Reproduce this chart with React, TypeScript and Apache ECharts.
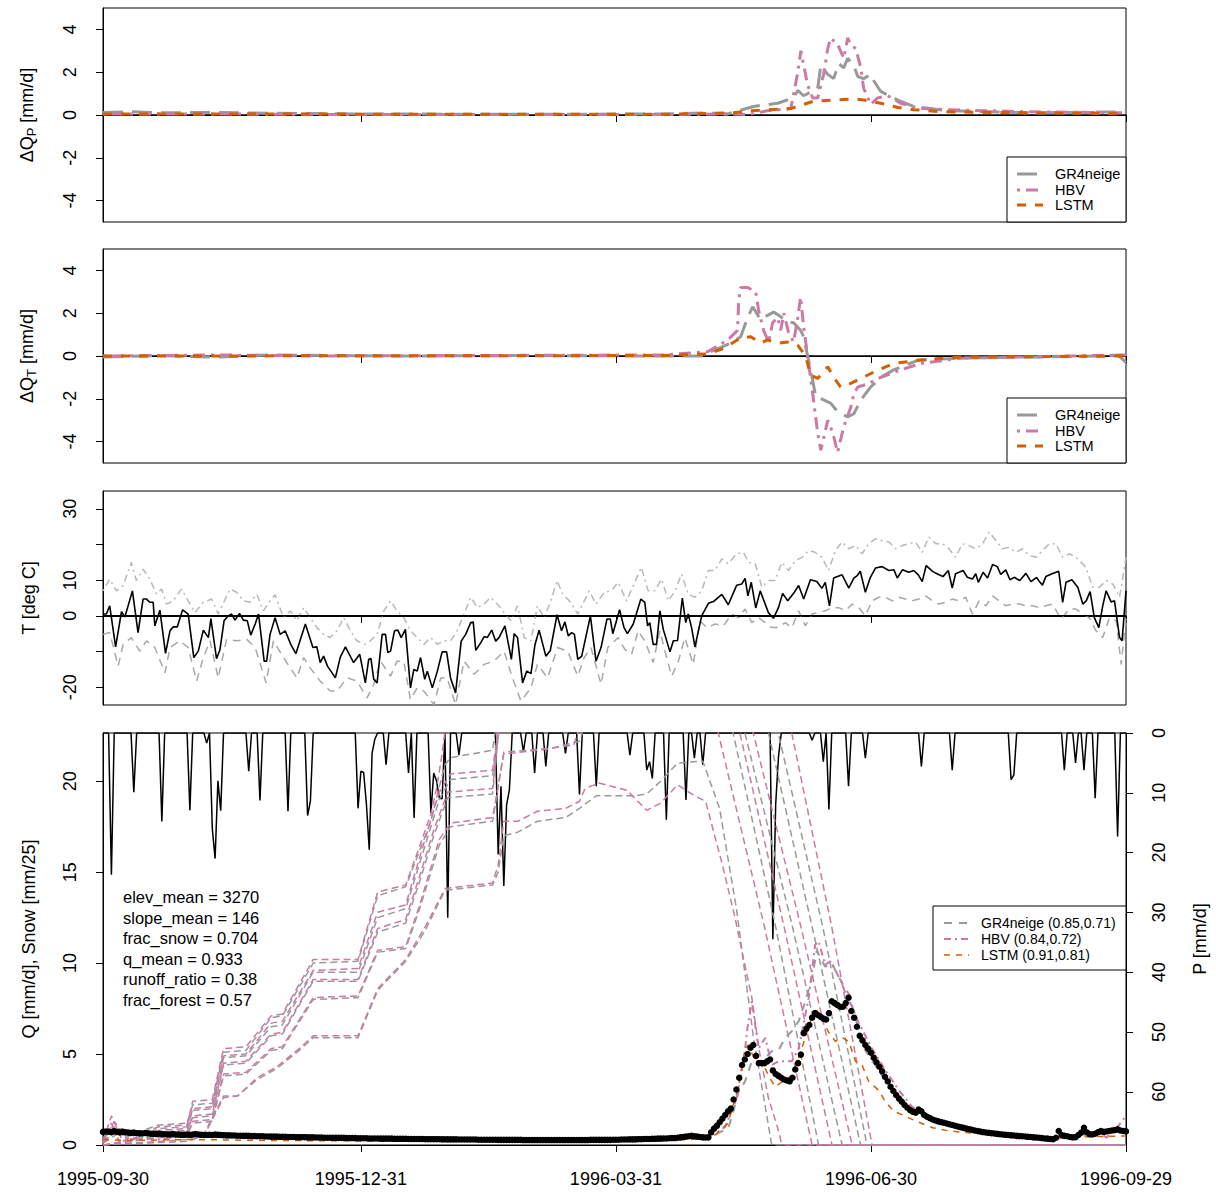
import React, { useEffect, useRef } from "react";
import * as echarts from "echarts";

const FONT = '"Liberation Sans", Arial, Helvetica, sans-serif';
const C_GR4 = "#999999";
const C_HBV = "#CC79A7";
const C_LSTM = "#D55E00";
const C_TMAX = "#b8b8b8";
const C_TMIN = "#a8a8a8";

// ---- x axis (days since 1995-09-30) ----
const tickDays = [0, 92, 183, 274, 365];
const tickLabels = ["1995-09-30", "1995-12-31", "1996-03-31", "1996-06-30", "1996-09-29"];

// ---- panel 1: delta Q from precipitation perturbation ----
const dQP_gr4 = [[0,0.12],[10,0.15],[20,0.1],[40,0.12],[60,0.08],[90,0.05],[150,0.03],[200,0.05],[215,0.1],[222.9,0.05],[232.1,0.4],[240.7,0.55],[246.4,0.8],[247.9,1.15],[250,0.9],[255,1.25],[256.1,2.3],[258.6,1.9],[260.7,1.7],[262.5,2.4],[264.3,2.2],[265.7,2.65],[267.9,2.3],[269.3,1.8],[271.4,1.7],[273.9,1.9],[275,1.6],[277.5,1.1],[283.6,0.7],[289.3,0.4],[301.4,0.2],[330,0.1],[365,0.15]];
const dQP_hbv = [[0,0.05],[30,0.05],[100,0.02],[200,0.02],[225,0.05],[230,0.02],[237.1,0.2],[245.4,0.3],[247.9,2.0],[249,3.0],[251.4,1.4],[253.2,0.8],[255,0.8],[257.1,1.9],[258.6,3.1],[259.6,3.6],[262.1,3.3],[264.3,2.65],[265.7,3.6],[266.8,3.3],[268.6,3.1],[270.4,2.2],[271.4,1.25],[273.9,0.5],[276.4,0.8],[280,0.9],[284.6,0.55],[291.8,0.3],[301.4,0.25],[330,0.15],[365,0.1]];
const dQP_lstm = [[0,0.05],[200,0.03],[225,0.1],[231,0.2],[245.4,0.3],[253.6,0.65],[260.7,0.7],[267.9,0.75],[271.4,0.7],[277.5,0.55],[283.6,0.35],[289.3,0.25],[298.9,0.15],[365,0.05]];

// ---- panel 2: delta Q from temperature perturbation ----
const dQT_gr4 = [[0,-0.05],[20,0.02],[40,-0.05],[60,0.05],[100,0],[150,0.02],[200,0],[214.3,0],[216.8,0.2],[223.9,0.6],[227.5,0.9],[230,1.8],[231.8,2.3],[234.6,1.7],[237.1,1.9],[239.3,2.05],[241.1,1.9],[244.3,1.6],[246.4,1.55],[248.9,1.2],[250,0.9],[251.4,0],[252.5,-0.65],[254.3,-1.9],[257.1,-2.05],[259.6,-2.2],[262.1,-2.6],[265.7,-2.85],[267.9,-2.7],[270.4,-2.05],[273.9,-1.45],[277.5,-1.0],[282.1,-0.65],[290.7,-0.2],[306,-0.1],[356,0],[362,0.05],[365,-0.3]];
const dQT_hbv = [[0,0],[40,0.05],[80,0],[150,0.03],[200,0.05],[215.7,0.2],[222.9,0.75],[226.4,1.2],[226.8,2.6],[227.5,3.2],[230,3.2],[232.9,3.0],[233.9,2.15],[235.7,1.2],[237.5,0.65],[238.9,1.55],[240.7,1.8],[241.8,1.2],[242.9,2.0],[244.6,1.1],[246.4,0.65],[247.9,1.8],[248.9,2.75],[250,1.35],[251.4,0],[253.2,-1.75],[255,-3.6],[256.1,-4.4],[258.6,-3.0],[260.4,-3.6],[262.1,-4.5],[263.2,-3.9],[264.3,-3.3],[266.8,-2.4],[267.9,-1.75],[269.3,-1.45],[272.9,-1.3],[277.5,-1.0],[284.6,-0.65],[291.8,-0.35],[306,-0.1],[365,0.05]];
const dQT_lstm = [[0,0],[200,0.02],[215.7,0.1],[221.4,0.35],[227.5,0.85],[231.1,0.9],[232.9,0.75],[234.6,0.6],[237.1,0.75],[240.7,0.6],[244.3,0.65],[247.9,0.5],[250.7,0],[252.5,-0.9],[255,-1.05],[258.6,-0.5],[260.7,-1.0],[263.2,-1.45],[265.7,-1.35],[270.4,-1.05],[275,-0.75],[282.1,-0.35],[290.7,-0.2],[306,-0.05],[365,0]];

// ---- panel 3: temperature ----
const tMean = [[0,0.5],[1.2,0.5],[2.4,2.8],[4.5,-8.7],[6.6,1.2],[7.8,-0.3],[10.5,7.0],[12.5,-4.7],[14.3,4.7],[15.5,4.7],[16.7,3.8],[17.9,3.8],[18.5,-2.8],[20.3,1.6],[22.3,-10.5],[23.9,-4.2],[25,-3.1],[26.5,-3.1],[28.4,1.7],[30.4,0.5],[32.4,-11.7],[34,-9.9],[35.8,-4.0],[37.6,-6.1],[38.5,-0.8],[40.5,-12.0],[41.7,-9.6],[43.2,-1.4],[44.7,0],[45.9,0.5],[47.1,-1.2],[48.7,0.7],[50.1,-1.2],[51.5,-1.4],[52.7,-5.4],[54.3,-2.3],[55.5,0.5],[57.5,-12.7],[58.4,-12.7],[59.6,-5.2],[61.4,-0.5],[63.2,-5.2],[65,-4.2],[67,-8.0],[68.8,-10.6],[72.2,-2.3],[74.9,-8.9],[76.3,-8.7],[77.5,-13.1],[78.7,-11.3],[80.1,-14.1],[82.9,-17.4],[84.7,-11.5],[86.5,-8.7],[89.4,-13.1],[91.6,-10.8],[93.6,-18.8],[94.8,-12.2],[95.6,-12.0],[96.6,-17.8],[97.8,-18.8],[99.6,-5.2],[100.8,-5.2],[101.6,-10.3],[102.6,-9.9],[104,-4.2],[105.2,-4.0],[106.4,-6.1],[107.9,-3.8],[109.7,-20.2],[110.9,-15.0],[112.1,-15.5],[113.3,-11.7],[114.8,-17.8],[115.7,-15.5],[117.5,-20.2],[119.3,-15.5],[121,-10.1],[122.6,-10.1],[124,-17.4],[125.8,-21.6],[127.8,-7.1],[129.4,-5.2],[131.2,-1.9],[132.1,-1.7],[133,-9.7],[134.8,-7.5],[136,-5.8],[137.1,-6.1],[138.7,-4.0],[140.1,-7.1],[141.3,-6.1],[143.4,-2.8],[145.7,-12.2],[146.7,-5.0],[147.9,-6.1],[149.7,-18.8],[151.2,-15.5],[152.7,-16.2],[154.1,-8.2],[155.6,-4.0],[158,-11.3],[159.6,-9.7],[162,0.3],[163.6,-4.2],[164.8,-1.7],[166,-5.6],[167.2,-4.7],[168.2,-5.2],[169.4,-12.2],[170.8,-11.3],[173.9,0],[175.9,-12.7],[177.7,-8.9],[179.8,-0.9],[181,-0.9],[181.9,-5.0],[184.3,1.7],[185.9,-3.3],[187.1,-5.0],[189.2,-2.3],[191.9,4.7],[193.3,3.8],[194.3,-2.8],[195.1,-1.9],[196.3,-8.0],[197.5,-8.0],[198.7,1.4],[199.9,-3.8],[202.3,-10.1],[203.5,-7.0],[205,-6.9],[206.7,5.0],[207.9,-1.9],[208.8,0.5],[210,-3.3],[211.2,-8.7],[213.6,0],[216,3.5],[217.8,4.0],[220.8,6.0],[223.1,3.1],[226.1,8.6],[227.9,8.9],[229.1,10.5],[230.1,5.6],[231.3,9.4],[232.9,2.2],[234.5,7.0],[237.4,0.9],[239.2,-0.7],[241,2.3],[242.5,6.3],[244.3,4.2],[246.4,6.3],[248.2,8.5],[250,4.7],[252.4,10.1],[254.7,9.6],[256.5,7.7],[257.7,9.4],[259.2,2.8],[260.7,10.6],[263.7,11.5],[266.1,7.8],[267.9,10.6],[269.1,11.3],[270.2,12.5],[272,6.6],[273.8,10.8],[275.6,13.4],[278,13.8],[280.4,12.7],[282.2,12.9],[283.4,10.6],[285.2,12.9],[287.5,12.2],[289.3,12.7],[290.9,11.5],[292.3,9.6],[293.7,14.1],[296.1,12.4],[298.3,11.5],[299.7,11.0],[301.6,12.7],[303,7.8],[304.2,11.8],[306.9,12.7],[308.4,10.8],[310.2,10.3],[311.4,11.8],[312.3,9.4],[314,12.2],[315.6,10.6],[317.4,14.4],[319.1,13.8],[320.3,11.6],[322.1,12.9],[323.6,10.1],[325.1,10.8],[327.1,9.9],[329.3,11.9],[331.1,9.6],[333.1,10.8],[334.1,9.6],[335.2,8.6],[336.4,11.0],[338.6,11.8],[341,12.5],[342.4,3.8],[343.6,9.4],[345.7,10.1],[347.8,8.0],[349.6,3.3],[350.8,4.2],[352.2,6.8],[353.7,-0.5],[355.3,-3.3],[356.7,2.8],[357.9,7.0],[359.7,3.9],[360.9,4.2],[362.7,-6.1],[363.6,-7.0],[365,7.0]];
const tMax = [[0,7.0],[2.4,10.3],[4.8,7.0],[7.2,8.5],[10.1,15.0],[11.9,9.9],[14.3,13.1],[16.7,10.3],[19.1,6.1],[20.9,7.5],[22.7,3.3],[25,4.2],[28,7.5],[30.4,4.2],[32.8,0.9],[35.8,3.8],[38.8,4.7],[41.1,0.5],[45.3,7.5],[47.7,6.6],[50.1,4.2],[52.5,3.8],[54.9,6.1],[57.2,1.4],[59.6,4.2],[61.4,5.9],[64.4,-0.5],[66.8,1.4],[69.2,-1.4],[71.6,2.3],[73.9,-0.5],[76.3,-3.3],[78.7,-5.2],[81.1,-6.1],[83.5,-4.2],[85.9,-0.5],[88.3,-4.2],[90.6,-7.0],[93.6,-8.0],[95.4,-7.0],[97.8,-5.2],[100.2,1.4],[102.6,4.2],[104.9,1.4],[107.3,-0.5],[109.7,-4.2],[112.1,-6.1],[114.5,-8.0],[116.9,-6.1],[119.3,-8.0],[121.6,-7.0],[124,-7.0],[126.4,-4.2],[128.8,0.5],[131.2,5.2],[133.6,2.3],[136,3.3],[138.3,5.2],[140.7,3.3],[143.1,0.9],[145.5,-1.4],[147.9,2.8],[150.3,-6.1],[152.7,-7.0],[155,2.8],[157.4,-0.5],[159.8,4.2],[162,9.9],[164,6.1],[166.4,4.2],[169.4,0.5],[171.7,4.2],[173.5,7.0],[175.9,3.3],[178.9,6.6],[181.3,7.0],[183.8,9.4],[186.8,4.2],[189.2,8.5],[192.1,13.6],[194.5,7.0],[196.9,7.0],[199.3,10.3],[201.7,4.2],[204.1,7.0],[206.4,11.7],[208.8,6.1],[211.2,5.2],[213.6,7.0],[216,12.7],[218.4,12.7],[220.8,16.0],[223.1,14.6],[226.1,17.4],[228.5,17.8],[230.3,15.0],[232.7,14.6],[235.1,8.0],[237.5,9.9],[239.8,9.9],[242.2,15.0],[244.6,12.7],[247,15.5],[249.4,16.4],[251.8,18.3],[254.1,17.8],[256.5,16.4],[258.9,12.7],[261.3,18.3],[263.7,20.7],[266.1,18.8],[268.5,19.7],[270.8,17.4],[273.2,20.2],[275.6,21.6],[278,21.1],[280.4,20.7],[282.8,18.8],[285.2,19.7],[287.5,20.2],[289.9,20.7],[292.3,17.8],[294.7,22.1],[297.1,20.2],[299.5,20.2],[301.9,18.8],[304.2,16.4],[306.6,20.2],[309,19.7],[311.4,18.8],[313.8,20.2],[316.2,23.5],[318.6,21.1],[320.9,18.8],[323.3,19.2],[325.7,17.8],[328.1,18.8],[330.5,16.9],[332.9,16.4],[335.2,18.3],[337.6,20.2],[340,20.2],[342.4,16.4],[344.8,17.4],[347.2,16.4],[350.7,13.6],[353.1,8.0],[355.5,8.0],[357.9,9.9],[360.3,8.9],[362.7,5.2],[365,16.4]];
const tMin = [[0,-5.2],[2.4,-4.7],[5.4,-14.1],[7.2,-8.0],[10.1,-6.1],[13.1,-9.9],[15.5,-7.0],[18.5,-8.9],[22.1,-16.0],[23.9,-8.9],[27.4,-7.0],[30.4,-8.9],[33.4,-18.3],[35.8,-11.7],[38.2,-7.0],[41.1,-17.4],[44.1,-6.6],[47.7,-7.0],[51.3,-6.6],[54.3,-8.9],[58.2,-18.8],[60.8,-7.0],[64.4,-11.7],[66.8,-14.6],[69.2,-17.4],[71.6,-11.7],[73.9,-14.6],[77.5,-18.3],[81.1,-21.1],[83.5,-21.1],[87.1,-17.4],[90.6,-18.3],[94.2,-23.0],[96.6,-19.2],[99,-12.7],[102.6,-16.9],[104.9,-12.7],[107.3,-12.7],[109.7,-23.5],[112.1,-20.2],[114.5,-21.1],[118.1,-24.9],[120.5,-17.4],[122.8,-17.4],[125.8,-24.9],[128.8,-12.7],[132.4,-16.4],[136,-13.6],[139.5,-12.7],[143.1,-9.9],[146.1,-17.4],[149.1,-23.9],[152.7,-20.2],[155,-13.6],[158.6,-17.4],[162.2,-8.9],[165.8,-9.9],[169.4,-16.9],[171.7,-11.7],[174.1,-8.9],[177.7,-19.2],[180.1,-8.9],[183.8,-6.1],[186.2,-9.4],[188.6,-10.8],[190.9,-4.2],[193.3,-7.0],[196.3,-13.1],[198.7,-4.2],[200.5,-9.9],[202.9,-16.9],[205.3,-12.7],[207.6,-6.1],[210.6,-13.6],[213,-1.4],[215.4,-3.3],[218.4,-2.3],[221.4,-2.8],[224.3,0.5],[226.7,-0.5],[229.1,1.9],[231.5,-1.9],[233.9,-0.5],[236.3,-1.9],[238.6,-3.3],[241,-3.3],[243.4,-1.9],[245.8,-3.3],[248.2,1.4],[250.6,-2.8],[253,0.5],[255.3,0.9],[257.7,1.4],[260.1,2.3],[262.5,2.3],[264.9,1.4],[267.3,3.3],[269.7,2.3],[272,0],[274.4,4.2],[276.8,5.2],[279.2,5.2],[281.6,4.2],[284,5.2],[286.3,4.7],[288.7,4.2],[291.1,4.7],[293.5,5.6],[295.9,4.2],[298.3,3.3],[300.7,3.8],[303,4.7],[305.4,4.2],[307.8,5.2],[310.2,0.5],[312.6,4.2],[315,2.8],[317.4,5.6],[319.7,4.2],[322.1,2.8],[324.5,3.3],[326.9,3.3],[329.3,2.8],[331.7,2.8],[334.1,2.3],[336.4,2.8],[338.8,3.3],[341.8,-0.9],[344.8,1.9],[347.2,1.9],[349.6,0.5],[351.9,-0.5],[354.3,-4.2],[356.7,-6.1],[359.1,-0.5],[361.5,-1.4],[363.3,-13.6],[365,-0.5]];

// ---- panel 4: precipitation (daily, mm/d; days not listed are 0) ----
const precipDays = [3,11,21,31,37,39,40,41,42,52,56,66,73,74,91,92,93,94,95,96,97,101,109,111,117,118,119,120,121,123,127,141,142,143,144,145,150,154,158,165,170,176,188,194,195,196,201,208,211,214,239,240,241,253,257,259,266,272,292,303,324,325,343,347,350,354,362];
const precipVals = [23.7,9.9,14.8,12.9,1.7,16,21,8,13,6.4,11.3,13.1,13.8,11.4,12.6,6.4,6.6,12,19.5,3.4,1,5.3,6.7,14.2,13.4,6.7,8,10.9,11,30.9,3.7,20.3,8.9,25.6,12,9.5,3.1,6.7,5.6,3.4,10.3,8.9,3.7,6.2,4.8,7.6,14.5,11.2,4.2,5.3,34.5,12,4,1.2,4.8,12.8,8.9,4.2,5.6,6.2,7.8,7,6.2,5,6.2,10.9,17.3];

// ---- panel 4: observed discharge (daily, mm/d) ----
const qObs = [
  0.72,0.74,0.73,0.70,0.76,0.72,0.69,0.72,0.70,0.68,
  0.66,0.68,0.65,0.64,0.63,0.66,0.64,0.62,0.61,0.60,
  0.62,0.60,0.59,0.58,0.58,0.60,0.58,0.57,0.56,0.56,
  0.57,0.56,0.58,0.60,0.58,0.56,0.55,0.55,0.56,0.55,
  0.57,0.56,0.55,0.54,0.53,0.53,0.52,0.52,0.51,0.51,
  0.50,0.50,0.50,0.49,0.49,0.48,0.48,0.48,0.47,0.47,
  0.46,0.46,0.46,0.45,0.45,0.45,0.44,0.44,0.44,0.43,
  0.43,0.43,0.43,0.42,0.42,0.42,0.41,0.41,0.41,0.40,
  0.40,0.40,0.40,0.39,0.39,0.39,0.39,0.38,0.38,0.38,
  0.38,0.37,0.37,0.37,0.37,0.36,0.36,0.36,0.36,0.35,
  0.35,0.35,0.35,0.35,0.34,0.34,0.34,0.34,0.34,0.33,
  0.33,0.33,0.33,0.33,0.33,0.32,0.32,0.32,0.32,0.32,
  0.32,0.31,0.31,0.31,0.31,0.31,0.31,0.30,0.30,0.30,
  0.30,0.30,0.30,0.30,0.29,0.29,0.29,0.29,0.29,0.29,
  0.29,0.28,0.28,0.28,0.28,0.28,0.28,0.28,0.28,0.28,
  0.27,0.27,0.27,0.27,0.27,0.27,0.27,0.27,0.27,0.27,
  0.27,0.27,0.27,0.27,0.27,0.27,0.27,0.27,0.27,0.27,
  0.27,0.27,0.27,0.27,0.28,0.28,0.28,0.28,0.28,0.28,
  0.28,0.28,0.29,0.29,0.29,0.30,0.30,0.30,0.31,0.31,
  0.31,0.32,0.32,0.33,0.33,0.33,0.34,0.34,0.35,0.35,
  0.36,0.36,0.37,0.38,0.38,0.40,0.42,0.44,0.46,0.48,
  0.50,0.48,0.46,0.44,0.42,0.41,0.42,0.70,0.90,1.05,
  1.25,1.45,1.65,1.85,2.00,2.50,3.05,3.70,4.40,4.70,
  5.00,5.35,5.50,4.90,4.50,4.50,4.50,4.60,4.70,4.10,
  3.90,3.80,3.70,3.60,3.55,3.50,3.70,4.15,4.50,4.97,
  6.15,6.40,6.60,7.00,7.25,7.15,7.06,6.95,6.90,7.25,
  7.90,7.80,7.70,7.60,7.60,7.80,8.10,7.37,7.00,6.50,
  6.00,5.75,5.50,5.30,5.07,4.80,4.55,4.30,4.05,3.75,
  3.50,3.20,2.97,2.75,2.55,2.38,2.20,2.05,1.92,1.82,
  1.78,1.95,1.85,1.65,1.55,1.48,1.40,1.35,1.30,1.26,
  1.22,1.18,1.14,1.10,1.06,1.02,0.98,0.94,0.90,0.87,
  0.84,0.80,0.77,0.74,0.71,0.69,0.67,0.65,0.63,0.61,
  0.59,0.58,0.56,0.55,0.53,0.52,0.50,0.49,0.48,0.47,
  0.45,0.44,0.42,0.41,0.40,0.38,0.36,0.35,0.33,0.32,
  0.40,0.77,0.55,0.50,0.48,0.44,0.42,0.43,0.55,0.68,
  0.95,0.70,0.60,0.58,0.62,0.70,0.77,0.72,0.74,0.77,
  0.80,0.82,0.86,0.80,0.77,0.75
];

// ---- panel 4: simulated discharge ----
const qGr4 = [[0,0.8],[5,0.9],[10,0.7],[20,0.6],[30,0.6],[60,0.5],[120,0.35],[180,0.3],[205,0.35],[212,0.45],[217,0.4],[220,0.7],[223,0.9],[224.5,1.6],[226.7,2.9],[229.1,3.5],[231.5,4.6],[233.9,4.4],[235.7,4.7],[238.6,5.16],[241,5.2],[243.4,5.9],[245.8,6.26],[248.2,6.8],[250.6,7.9],[253,9.2],[254.7,10.7],[255.9,10.3],[257.7,9.8],[260.1,10.0],[261.3,9.6],[263.7,8.9],[266.1,8.3],[269.7,6.3],[272,5.2],[276.8,4.1],[280.4,3.2],[285.2,2.5],[288.7,2.0],[295,1.6],[300,1.3],[310,0.9],[320,0.62],[330,0.47],[340,0.38],[345,0.5],[350,0.6],[355,0.55],[360,0.8],[363,0.9],[365,0.85]];
const qHbv = [[0,0.3],[3,1.2],[6,0.1],[12,0.4],[20,0.3],[30,0.5],[60,0.4],[120,0.3],[180,0.28],[210,0.4],[218,0.6],[222,1.0],[226,2.5],[228.5,4.5],[230,6.5],[231.5,7.9],[233.9,5.3],[236.3,5.9],[238.6,4.4],[241,4.6],[245.8,4.6],[248.2,5.3],[251.8,8.1],[254.1,11.0],[255.3,11.2],[257.7,9.9],[259.5,10.1],[261.3,9.6],[263.7,8.9],[264.9,8.3],[267.3,7.6],[269.7,6.7],[274.4,5.3],[279.2,4.1],[284,3.0],[288.7,2.1],[295,1.5],[300,1.2],[310,0.85],[320,0.6],[330,0.45],[340,0.35],[350,0.5],[355,0.8],[358,0.4],[362,1.0],[365,1.6]];
const qLstm = [[0,0.3],[10,0.25],[30,0.3],[60,0.25],[120,0.2],[180,0.2],[210,0.3],[218,0.5],[223,1.2],[226.7,3.2],[229.1,5.3],[230.3,5.5],[232.7,4.6],[235.1,4.6],[237.5,3.8],[239.8,3.2],[243.4,3.6],[245.8,3.8],[248.2,4.8],[250.6,5.9],[253,7.1],[254.7,7.4],[256.5,6.95],[258.9,6.2],[261.3,5.7],[263.7,5.9],[266.1,5.7],[268.5,4.6],[270.8,4.4],[273.2,3.5],[276.8,3.0],[279,2.42],[282,1.87],[286,1.6],[290,1.32],[296,0.95],[302,0.77],[314,0.6],[338,0.41],[350,0.45],[365,0.5]];

// ---- panel 4: snow water equivalent per elevation band (mm/25) ----
const snowGr4_1 = [[0,0.3],[4,1.0],[8,0.4],[14,0.8],[20,1.1],[30,1.2],[32,2.2],[39,2.3],[43,5.1],[51,5.2],[60,7.0],[64,7.1],[75,10.0],[91,10.1],[98,13.7],[108,14.2],[112,15.8],[117,17.8],[119,19.1],[122,20.9],[124,21.3],[139,21.7],[141,24],[238,24],[241,22.6],[256.8,12],[272.6,0],[365,0]];
const snowHbv_1 = [[0,0.2],[3,1.6],[7,0.2],[12,0.6],[20,1.0],[30,1.1],[32,2.4],[39,2.5],[43,5.3],[51,5.4],[60,7.1],[64,7.2],[75,10.2],[91,10.2],[98,13.9],[108,14.3],[112,16],[117,18.2],[119,19.6],[121,21.5],[123,24],[244,24],[245.8,22.6],[260,12],[274.4,0],[365,0]];
const snowGr4_2 = [[0,0.2],[5,0.8],[10,0.3],[20,0.9],[30,1.0],[32,1.9],[39,2.0],[43,4.8],[51,4.9],[60,6.5],[64,6.6],[75,9.5],[91,9.5],[98,12.5],[108,13.0],[112,15],[117,17.5],[120,19.0],[124,20.1],[139,20.3],[142,24],[234,24],[237.5,22.6],[253,12],[270.3,0],[365,0]];
const snowHbv_2 = [[0,0.1],[4,1.3],[9,0.2],[20,0.8],[30,0.9],[32,2.0],[39,2.1],[43,4.9],[51,5.0],[60,6.7],[64,6.8],[75,9.6],[91,9.7],[98,12.8],[108,13.2],[112,15.3],[117,17.9],[120,19.4],[124,20.4],[139,20.6],[142,24],[229,24],[232.1,22.6],[249,12],[267.3,0],[365,0]];
const snowGr4_3 = [[0,0.1],[5,0.6],[20,0.7],[30,0.8],[32,1.5],[39,1.6],[43,4.4],[51,4.5],[60,6.0],[64,6.1],[75,9.0],[91,9.0],[98,11.7],[108,12.2],[113,14.5],[118,17],[123,19.1],[139,19.3],[142,24],[226,24],[229.1,22.6],[246,12],[263.7,0],[365,0]];
const snowHbv_3 = [[0,0.1],[5,0.9],[20,0.6],[30,0.7],[32,1.6],[39,1.7],[43,4.5],[51,4.6],[60,6.1],[64,6.2],[75,9.1],[91,9.1],[98,11.9],[108,12.4],[113,14.8],[118,17.3],[123,19.4],[139,19.6],[142,24],[224,24],[227.3,22.6],[243,12],[260.1,0],[365,0]];
const snowGr4_4 = [[0,0],[20,0.5],[30,0.6],[32,1.2],[39,1.3],[43,3.8],[51,3.9],[60,5.2],[64,5.3],[75,8.0],[91,8.1],[98,10.6],[108,10.8],[113,13],[120,16.5],[124,17.5],[139,17.8],[143,21.6],[160,21.8],[170,22.2],[174,24],[222,24],[224.9,22.6],[240,12],[255.3,0],[365,0]];
const snowHbv_4 = [[0,0],[20,0.4],[30,0.5],[32,1.3],[39,1.4],[43,3.9],[51,4.0],[60,5.3],[64,5.4],[75,8.1],[91,8.2],[98,10.7],[108,10.9],[113,13.2],[120,16.8],[124,17.7],[139,18.0],[143,21.5],[155,21.7],[168,22.0],[172,24],[217,24],[219.6,22.6],[236,12],[253,0],[365,0]];
const snowGr4_5 = [[0,0],[30,0.3],[36,0.6],[43,2.7],[48,2.7],[55,3.6],[62,4.2],[70,5.2],[75,5.9],[91,5.9],[98,8.5],[108,10.1],[115,11.8],[122,14.0],[139,14.3],[141,15.0],[143,17.0],[148,17.2],[155,17.8],[165,18.0],[170,18.5],[176,19.2],[190,19.2],[194,19.3],[199,20.0],[205,21.0],[214,21.1],[220,18.5],[226,13],[232,6],[238.6,0],[365,0]];
const snowHbv_5 = [[0,0],[30,0.2],[36,0.5],[43,2.6],[48,2.7],[55,3.7],[62,4.3],[70,5.3],[75,6.0],[91,6.0],[98,8.6],[108,10.2],[115,12.0],[122,14.1],[139,14.4],[141,15.4],[143,17.8],[148,17.8],[155,18.35],[165,18.5],[170,18.9],[172,19.6],[177,19.9],[187,19.5],[194,18.4],[199,18.8],[205,19.8],[211,19.2],[215,18.9],[221,15.4],[225.5,12.5],[229,9.9],[231.5,8.1],[234,5.3],[237.4,2.6],[241,0.8],[242.2,0],[365,0]];

// ---- annotation / legend texts ----
const attrLines = ["elev_mean = 3270", "slope_mean = 146", "frac_snow = 0.704", "q_mean = 0.933", "runoff_ratio = 0.38", "frac_forest = 0.57"];
const modelNames = ["GR4neige", "HBV", "LSTM"];
const modelScores = ["(0.85,0.71)", "(0.84,0.72)", "(0.91,0.81)"];

export default function App() {
  const ref = useRef<HTMLDivElement>(null);
  useEffect(() => {
    const chart = echarts.init(ref.current as HTMLDivElement, null, { renderer: "svg" });

    const precip: number[][] = [];
    for (let d = 0; d <= 365; d++) precip.push([d, 0]);
    precipDays.forEach((d, i) => { precip[d][1] = precipVals[i]; });
    const qObsPts = qObs.map((v, i) => [i, v]);

    const gridBase = { show: true, borderColor: "#000", borderWidth: 1, backgroundColor: "transparent", containLabel: false, outerBoundsMode: "none" };
    const grids = [
      { ...gridBase, left: 103, top: 8, width: 1023, height: 214 },
      { ...gridBase, left: 103, top: 249, width: 1023, height: 214 },
      { ...gridBase, left: 103, top: 491, width: 1023, height: 214 },
      { ...gridBase, left: 103, top: 733, width: 1023, height: 412 },
    ];

    const xAxes = [0, 1, 2, 3].map((i) => ({
      type: "value", gridIndex: i, min: 0, max: 365,
      axisLine: { show: true, lineStyle: { color: "#000", width: 1 } },
      axisTick: { show: true, customValues: tickDays, length: 7, lineStyle: { color: "#000", width: 1 } },
      axisLabel: {
        show: i === 3, customValues: tickDays, margin: 25, fontSize: 18, fontFamily: FONT, color: "#000",
        formatter: (v: number) => tickLabels[tickDays.indexOf(Math.round(v))] ?? "",
      },
      splitLine: { show: false },
    }));

    const nameStyle = {
      fontSize: 18, fontFamily: FONT, color: "#000",
      rich: {
        a: { fontSize: 18, fontFamily: FONT, color: "#000", lineHeight: 22 },
        s: { fontSize: 13, fontFamily: FONT, color: "#000", lineHeight: 10, verticalAlign: "bottom" },
      },
    };
    const yBase = (grid: number, min: number, max: number, ticks: number[], labels: number[], name: string) => ({
      type: "value", gridIndex: grid, min, max,
      axisLine: { show: true, lineStyle: { color: "#000", width: 1 } },
      axisTick: { show: true, customValues: ticks, length: 7, lineStyle: { color: "#000", width: 1 } },
      axisLabel: { show: true, customValues: labels, rotate: 90, margin: 24, fontSize: 18, fontFamily: FONT, color: "#000" },
      splitLine: { show: false },
      name, nameLocation: "middle", nameRotate: 90, nameGap: 65, nameMoveOverlap: false,
      nameTextStyle: nameStyle,
    });
    const yAxes: any[] = [
      yBase(0, -5, 5, [-4, -2, 0, 2, 4], [-4, -2, 0, 2, 4], "{a|ΔQ}{s|P}{a| [mm/d]}"),
      yBase(1, -5, 5, [-4, -2, 0, 2, 4], [-4, -2, 0, 2, 4], "{a|ΔQ}{s|T}{a| [mm/d]}"),
      yBase(2, -25, 35, [-20, -10, 0, 10, 20, 30], [-20, 0, 10, 30], "T [deg C]"),
      yBase(3, 0, 22.65, [0, 5, 10, 15, 20], [0, 5, 10, 15, 20], "Q [mm/d], Snow [mm/25]"),
      { ...yBase(3, 0, 68.9, [0, 10, 20, 30, 40, 50, 60], [0, 10, 20, 30, 40, 50, 60], "P [mm/d]"), position: "right", inverse: true },
    ];

    const line = (name: string, data: any, xi: number, yi: number, color: string, width: number, dash: any, z = 2) => ({
      type: "line", name, data, xAxisIndex: xi, yAxisIndex: yi, showSymbol: false, symbol: "none",
      lineStyle: { color, width, type: dash }, itemStyle: { color }, silent: true, z, clip: true,
    });
    const zero = [[0, 0], [365, 0]];

    const D_GR4 = [20, 9], D_HBV = [3, 6, 12, 6], D_LSTM = [9, 9];
    const d_GR4 = [8, 7], d_HBV = [7, 4, 2, 4], d_LSTM = [6, 6];
    const d_SNOW = [7, 4];

    const series: any[] = [
      line("zero0", zero, 0, 0, "#000", 1.5, "solid", 1),
      line("GR4neige", dQP_gr4, 0, 0, C_GR4, 3, D_GR4),
      line("HBV", dQP_hbv, 0, 0, C_HBV, 3, D_HBV),
      line("LSTM", dQP_lstm, 0, 0, C_LSTM, 3, D_LSTM),

      line("zero1", zero, 1, 1, "#000", 1.5, "solid", 1),
      line("GR4neige", dQT_gr4, 1, 1, C_GR4, 3, D_GR4),
      line("HBV", dQT_hbv, 1, 1, C_HBV, 3, D_HBV),
      line("LSTM", dQT_lstm, 1, 1, C_LSTM, 3, D_LSTM),

      line("Tmax", tMax, 2, 2, C_TMAX, 1.5, [2, 4, 7, 4]),
      line("Tmin", tMin, 2, 2, C_TMIN, 1.5, [8, 6]),
      line("zero2", zero, 2, 2, "#000", 1.5, "solid", 3),
      line("Tmean", tMean, 2, 2, "#000", 1.6, "solid", 4),

      line("P", precip, 3, 4, "#000", 1.5, "solid", 2),
      line("snow GR4 1", snowGr4_1, 3, 3, C_GR4, 1.5, d_SNOW),
      line("snow HBV 1", snowHbv_1, 3, 3, C_HBV, 1.5, d_SNOW),
      line("snow GR4 2", snowGr4_2, 3, 3, C_GR4, 1.5, d_SNOW),
      line("snow HBV 2", snowHbv_2, 3, 3, C_HBV, 1.5, d_SNOW),
      line("snow GR4 3", snowGr4_3, 3, 3, C_GR4, 1.5, d_SNOW),
      line("snow HBV 3", snowHbv_3, 3, 3, C_HBV, 1.5, d_SNOW),
      line("snow GR4 4", snowGr4_4, 3, 3, C_GR4, 1.5, d_SNOW),
      line("snow HBV 4", snowHbv_4, 3, 3, C_HBV, 1.5, d_SNOW),
      line("snow GR4 5", snowGr4_5, 3, 3, C_GR4, 1.5, d_SNOW),
      line("snow HBV 5", snowHbv_5, 3, 3, C_HBV, 1.5, d_SNOW),
      line("Q GR4neige", qGr4, 3, 3, C_GR4, 2, d_GR4, 5),
      line("Q HBV", qHbv, 3, 3, C_HBV, 2, d_HBV, 5),
      line("Q LSTM", qLstm, 3, 3, C_LSTM, 1.5, d_LSTM, 5),
      {
        type: "scatter", name: "Qobs", data: qObsPts, xAxisIndex: 3, yAxisIndex: 3,
        symbol: "circle", symbolSize: 6.5, itemStyle: { color: "#000", opacity: 1 }, silent: true, z: 6,
      },
    ];

    const legendBox = (x: number, y: number, w: number, h: number, lx1: number, lx2: number, tx: number, rows: number[], labels: string[], widths: number[], dashes: any[], fs: number) => {
      const colors = [C_GR4, C_HBV, C_LSTM];
      const els: any[] = [{ type: "rect", shape: { x, y, width: w, height: h }, style: { fill: "#fff", stroke: "#000", lineWidth: 1 }, z: 100 }];
      rows.forEach((ry, i) => {
        els.push({ type: "line", shape: { x1: lx1, y1: ry, x2: lx2, y2: ry }, style: { stroke: colors[i], lineWidth: widths[i], lineDash: dashes[i] }, z: 101 });
        els.push({ type: "text", x: tx, y: ry, style: { text: labels[i], font: `${fs}px ${FONT}`, fill: "#000", textAlign: "left", textVerticalAlign: "middle" }, z: 101 });
      });
      return els;
    };

    const graphic: any[] = [
      ...legendBox(1007, 157, 119, 65, 1017, 1043, 1055, [174, 190, 205], modelNames, [3, 3, 3], [D_GR4, D_HBV, D_LSTM], 14.5),
      ...legendBox(1007, 398, 119, 65, 1017, 1043, 1055, [415, 431, 446], modelNames, [3, 3, 3], [D_GR4, D_HBV, D_LSTM], 14.5),
      ...legendBox(933, 906, 193, 64, 944, 969, 981, [923, 939, 955], modelNames.map((n, i) => `${n} ${modelScores[i]}`), [2, 2, 1.5], [d_GR4, d_HBV, d_LSTM], 14),
      ...attrLines.map((t, i) => ({
        type: "text", x: 123, y: 897 + i * 20.6,
        style: { text: t, font: `16.5px ${FONT}`, fill: "#000", textAlign: "left", textVerticalAlign: "middle" }, z: 50,
      })),
    ];

    chart.setOption({
      animation: false,
      backgroundColor: "#fff",
      textStyle: { fontFamily: FONT },
      grid: grids,
      xAxis: xAxes,
      yAxis: yAxes,
      series,
      graphic,
    });
    return () => chart.dispose();
  }, []);
  return <div ref={ref} style={{ position: "absolute", left: 0, top: 0, width: 1216, height: 1192, background: "#fff" }} />;
}
